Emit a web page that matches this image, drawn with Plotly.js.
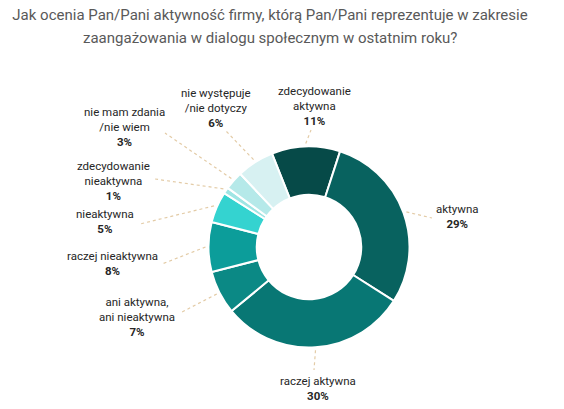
<!DOCTYPE html>
<html>
<head>
<meta charset="utf-8">
<script src="https://cdn.plot.ly/plotly-3.0.1.min.js"></script>
<style>
  html, body { margin: 0; padding: 0; background: #fff; }
  #chart { width: 564px; height: 409px; }
</style>
</head>
<body>
<div id="chart"></div>
<script>
// survey answers, clockwise from the top-left
const categories = [
    'zdecydowanie<br>aktywna',
    'aktywna',
    'raczej aktywna',
    'ani aktywna,<br>ani nieaktywna',
    'raczej nieaktywna',
    'nieaktywna',
    'zdecydowanie<br>nieaktywna',
    'nie mam zdania<br>/nie wiem',
    'nie występuje<br>/nie dotyczy'
];
const shares = [11, 29, 30, 7, 8, 5, 1, 3, 6];
const sliceColors = ['#064a48', '#08625f', '#087774', '#0b8985', '#0c9d9a',
                     '#34d3d0', '#9fe5e4', '#b5e9e9', '#d7f1f2'];
const titleLines = [
    'Jak ocenia Pan/Pani aktywność firmy, którą Pan/Pani reprezentuje w zakresie',
    'zaangażowania w dialogu społecznym w ostatnim roku?'
];

// label layout (pixels): end of the leader line, centre of the text block
const callouts = [
    { end: [311, 130], c: [315, 106] },
    { end: [432, 218], c: [457, 217] },
    { end: [314, 370], c: [318, 388] },
    { end: [182, 312], c: [137, 317] },
    { end: [162, 264], c: [112, 263] },
    { end: [140, 224], c: [105, 222] },
    { end: [155, 179], c: [113, 181] },
    { end: [165, 133], c: [124, 127] },
    { end: [225, 130], c: [216, 108] }
];

const W = 564, H = 409;
const cx = 309, cy = 247, R = 100.5;
const rotation = -21.6;
const labelFont = { family: 'Roboto, sans-serif', size: 11.5, color: '#262626' };

const px = x => x / W;
const py = y => 1 - y / H;

const total = shares.reduce((a, b) => a + b, 0);
let cum = 0;
const shapes = [];
const annotations = [];

shares.forEach((v, i) => {
    const mid = (rotation + (cum + v / 2) / total * 360) * Math.PI / 180;
    cum += v;
    const r0 = R + 3;
    const sx = cx + r0 * Math.sin(mid);
    const sy = cy - r0 * Math.cos(mid);
    const c = callouts[i];
    shapes.push({
        type: 'line', xref: 'paper', yref: 'paper',
        x0: px(sx), y0: py(sy), x1: px(c.end[0]), y1: py(c.end[1]),
        line: { color: '#e3cba6', width: 1.2, dash: 'dot' }
    });
    annotations.push({
        xref: 'paper', yref: 'paper',
        x: px(c.c[0]), y: py(c.c[1]),
        xanchor: 'center', yanchor: 'middle',
        borderpad: 0, align: 'center',
        text: categories[i] + '<br><b>' + v + '%</b>',
        showarrow: false, font: labelFont
    });
});

// second title line, spaced like the original
annotations.push({
    xref: 'paper', yref: 'paper',
    x: px(270), y: py(38), xanchor: 'center', yanchor: 'middle',
    text: titleLines[1], showarrow: false,
    font: { family: 'Roboto, sans-serif', size: 15, color: '#595959' }
});

const data = [{
    type: 'pie',
    labels: categories,
    values: shares,
    sort: false,
    direction: 'clockwise',
    rotation: rotation,
    hole: 0.52,
    textinfo: 'none',
    hoverinfo: 'label+percent',
    marker: { colors: sliceColors, line: { color: '#ffffff', width: 2 } },
    domain: { x: [px(cx - R), px(cx + R)], y: [py(cy + R), py(cy - R)] },
    showlegend: false
}];

const layout = {
    width: W, height: H,
    margin: { t: 0, b: 0, l: 0, r: 0 },
    paper_bgcolor: '#ffffff',
    title: {
        text: titleLines[0],
        font: { family: 'Roboto, sans-serif', size: 15, color: '#595959' },
        x: 270 / W, xanchor: 'center',
        y: 1 - 15 / H, yanchor: 'middle'
    },
    shapes: shapes,
    annotations: annotations
};

Plotly.newPlot('chart', data, layout, { displayModeBar: false, staticPlot: true });
</script>
</body>
</html>
